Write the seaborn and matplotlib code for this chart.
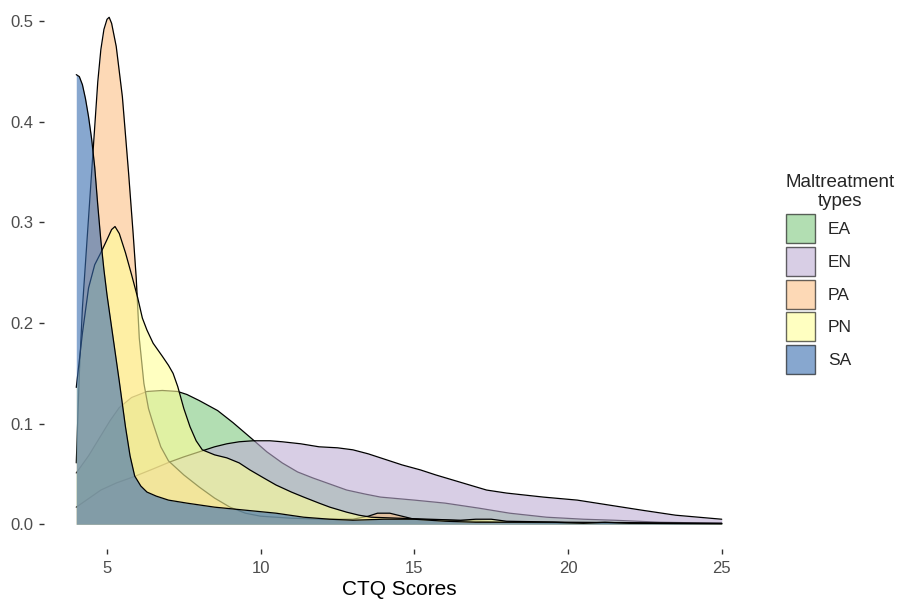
import pandas as pd
import matplotlib
matplotlib.use("Agg")
import matplotlib.pyplot as plt
from matplotlib.patches import Patch
import seaborn as sns

# density curves (CTQ score -> density)
types = ["EA", "EN", "PA", "PN", "SA"]
colors = ["#7FC97F", "#BEAED4", "#FDC086", "#FFFF99", "#386CB0"]

ea_x = [4.0, 4.4, 4.8, 5.1, 5.4, 5.8, 6.3, 6.8, 7.3, 7.6, 8.0, 8.6, 9.1, 9.75, 10.2, 10.7,
        11.2, 11.7, 12.25, 12.8, 13.4, 13.9, 15.0, 16.0, 17.1, 18.1, 19.3, 20.5, 21.5, 23.0, 25.0]
ea_y = [0.051, 0.068, 0.088, 0.103, 0.116, 0.126, 0.132, 0.133, 0.132, 0.129, 0.123, 0.113,
        0.101, 0.084, 0.072, 0.061, 0.052, 0.046, 0.040, 0.034, 0.030, 0.027, 0.024, 0.021,
        0.016, 0.011, 0.007, 0.005, 0.004, 0.002, 0.001]

en_x = [4.0, 4.8, 5.3, 5.85, 6.5, 7.05, 7.5, 8.0, 8.5, 8.9, 9.3, 9.75, 10.3, 10.7, 11.3, 11.9,
        12.5, 13.0, 13.5, 14.1, 14.6, 15.2, 15.7, 16.25, 16.8, 17.35, 18.0, 18.6, 19.2, 20.3,
        21.35, 22.4, 23.5, 25.0]
en_y = [0.017, 0.034, 0.041, 0.047, 0.055, 0.062, 0.067, 0.072, 0.077, 0.080, 0.082, 0.083,
        0.083, 0.082, 0.080, 0.077, 0.076, 0.074, 0.070, 0.064, 0.059, 0.054, 0.049, 0.044,
        0.039, 0.034, 0.031, 0.029, 0.027, 0.024, 0.019, 0.014, 0.009, 0.005]

pa_x = [4.0, 4.1, 4.2, 4.3, 4.4, 4.5, 4.6, 4.7, 4.8, 4.9, 5.0, 5.07, 5.15, 5.3, 5.5, 5.7, 5.85,
        5.95, 6.05, 6.2, 6.35, 6.5, 6.75, 7.0, 7.5, 8.0, 8.5, 9.0, 9.5, 10.0, 11.0, 12.0, 13.0,
        13.5, 13.8, 14.2, 14.6, 15.0, 16.0, 17.0, 18.0, 20.0, 25.0]
pa_y = [0.061, 0.15, 0.215, 0.26, 0.305, 0.35, 0.395, 0.44, 0.472, 0.492, 0.502, 0.504, 0.498,
        0.475, 0.425, 0.35, 0.289, 0.245, 0.185, 0.14, 0.115, 0.10, 0.077, 0.063, 0.049, 0.037,
        0.026, 0.017, 0.011, 0.008, 0.006, 0.005, 0.005, 0.008, 0.011, 0.011, 0.008, 0.005,
        0.004, 0.003, 0.002, 0.001, 0.0005]

pn_x = [4.0, 4.2, 4.4, 4.6, 4.8, 5.0, 5.15, 5.26, 5.4, 5.6, 5.8, 6.0, 6.15, 6.3, 6.5, 6.8, 7.0,
        7.15, 7.3, 7.5, 7.7, 7.9, 8.1, 8.5, 8.9, 9.3, 9.65, 10.1, 10.5, 11.0, 11.4, 11.9, 12.25,
        12.8, 13.2, 13.6, 14.5, 15.5, 16.5, 17.0, 17.5, 18.0, 20.0, 25.0]
pn_y = [0.136, 0.19, 0.235, 0.258, 0.27, 0.283, 0.293, 0.296, 0.289, 0.27, 0.248, 0.225, 0.205,
        0.193, 0.18, 0.167, 0.158, 0.150, 0.137, 0.115, 0.097, 0.083, 0.074, 0.069, 0.066,
        0.061, 0.054, 0.046, 0.039, 0.032, 0.027, 0.021, 0.017, 0.012, 0.009, 0.007, 0.006,
        0.005, 0.004, 0.005, 0.005, 0.003, 0.002, 0.001]

sa_x = [4.0, 4.1, 4.2, 4.3, 4.4, 4.5, 4.6, 4.7, 4.8, 4.9, 5.0, 5.2, 5.4, 5.6, 5.75, 5.9, 6.1,
        6.3, 6.6, 7.0, 7.6, 8.5, 9.5, 10.5, 11.4, 12.25, 13.0, 14.0, 15.0, 16.0, 17.0, 18.5,
        19.5, 20.5, 21.2, 22.0, 25.0]
sa_y = [0.447, 0.445, 0.437, 0.423, 0.405, 0.383, 0.355, 0.317, 0.282, 0.253, 0.228, 0.185,
        0.142, 0.097, 0.068, 0.048, 0.038, 0.032, 0.028, 0.024, 0.021, 0.017, 0.014, 0.011,
        0.007, 0.005, 0.004, 0.005, 0.005, 0.003, 0.002, 0.002, 0.002, 0.001, 0.002, 0.001, 0.0005]

x_ticks = [5, 10, 15, 20, 25]
y_ticks = [0.0, 0.1, 0.2, 0.3, 0.4, 0.5]
y_labels = ["0.0", "0.1", "0.2", "0.3", "0.4", "0.5"]

curves = {"EA": (ea_x, ea_y), "EN": (en_x, en_y), "PA": (pa_x, pa_y),
          "PN": (pn_x, pn_y), "SA": (sa_x, sa_y)}
df = pd.concat([pd.DataFrame({"score": cx, "density": cy, "type": t})
                for t, (cx, cy) in curves.items()], ignore_index=True)

sns.set_style("white")
plt.rcParams["font.family"] = ["Liberation Sans", "DejaVu Sans"]

fig = plt.figure(figsize=(9.02, 6.0), dpi=100)
ax = fig.add_axes([44 / 902, 51 / 600, 710 / 902, 549 / 600])

alpha = 0.6
for i, (t, c) in enumerate(zip(types, colors)):
    sub = df[df["type"] == t]
    # fill first, then upper outline, group by group like geom_density
    ax.fill_between(sub["score"], 0, sub["density"], color=c, alpha=alpha,
                    linewidth=0, zorder=2 * i + 1)
    sns.lineplot(data=sub, x="score", y="density", ax=ax, color="black",
                 linewidth=0.9, estimator=None, sort=False, zorder=2 * i + 2)

ax.set_xlim(2.95, 26.05)
ax.set_ylim(-0.0246, 0.5212)
ax.set_xticks(x_ticks)
ax.set_xticklabels([str(v) for v in x_ticks])
ax.set_yticks(y_ticks)
ax.set_yticklabels(y_labels)
for s in ax.spines.values():
    s.set_visible(False)
ax.tick_params(bottom=True, left=True, length=3.6, width=1, color="#333333",
               labelcolor="#4D4D4D", labelsize=12)
ax.tick_params(axis="x", pad=5)
ax.tick_params(axis="y", pad=4)
ax.set_xlabel("CTQ Scores", fontsize=15, color="black", labelpad=3)
ax.set_ylabel("")

handles = [Patch(facecolor=c, alpha=alpha, edgecolor="black", linewidth=1) for c in colors]
leg = fig.legend(handles, types, loc="upper left", bbox_to_anchor=(777 / 902, 1 - 165 / 600),
                 frameon=False, fontsize=12.5, title="Maltreatment\ntypes",
                 title_fontsize=13.5, handlelength=1.67, handleheight=2.19,
                 labelspacing=0.22, handletextpad=0.75, borderpad=0, alignment="left")
leg.get_title().set_multialignment("center")
leg.get_title().set_linespacing(1.2)
for p in leg.get_patches():
    p.set_edgecolor((0, 0, 0, 1))

fig.savefig("out.png", dpi=100)
